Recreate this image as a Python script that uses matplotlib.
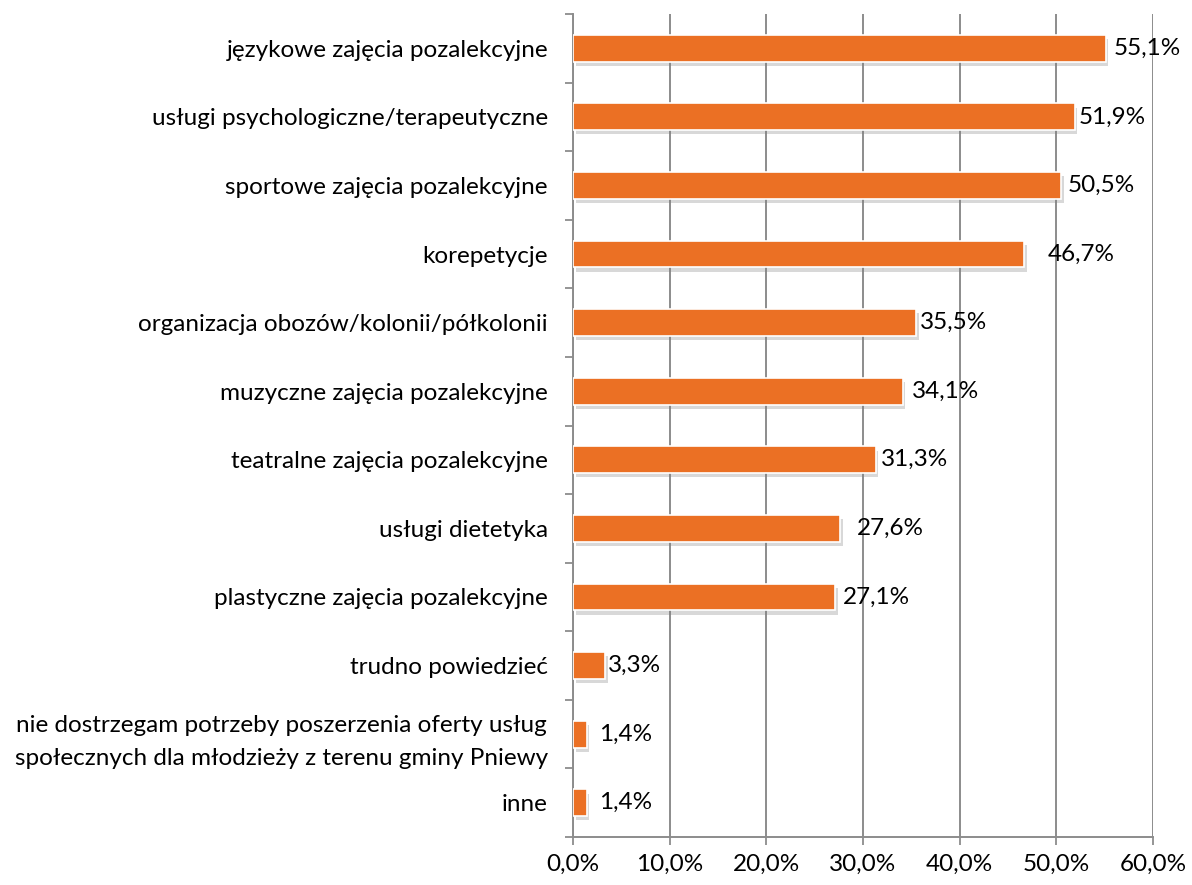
import matplotlib.pyplot as plt
import matplotlib.patheffects as pe
import numpy as np

plt.rcParams['font.family'] = ['Lato', 'DejaVu Sans']

categories = [
    "językowe zajęcia pozalekcyjne",
    "usługi psychologiczne/terapeutyczne",
    "sportowe zajęcia pozalekcyjne",
    "korepetycje",
    "organizacja obozów/kolonii/półkolonii",
    "muzyczne zajęcia pozalekcyjne",
    "teatralne zajęcia pozalekcyjne",
    "usługi dietetyka",
    "plastyczne zajęcia pozalekcyjne",
    "trudno powiedzieć",
    "nie dostrzegam potrzeby poszerzenia oferty usług\nspołecznych dla młodzieży z terenu gminy Pniewy",
    "inne",
]
values = [55.1, 51.9, 50.5, 46.7, 35.5, 34.1, 31.3, 27.6, 27.1, 3.3, 1.4, 1.4]
xticks = [0, 10, 20, 30, 40, 50, 60]

# label gaps from bar end (points), mimicking the hand-placed labels
label_gap = [6, 3, 5, 17, 3, 7, 4, 12, 6, 2, 9, 9]

bar_color = '#EB7024'
grid_color = '#8C8C8C'
fs = 17.5

fig = plt.figure(figsize=(11.92, 8.85), dpi=100)
ax = fig.add_axes([0.4807, 0.0542, 0.4866, 0.93])

y = np.arange(len(categories))
bars = ax.barh(y, values, height=0.39, color=bar_color, edgecolor='white',
               linewidth=1.2, zorder=3)
for b in bars:
    b.set_path_effects([pe.SimplePatchShadow(offset=(2, -3), shadow_rgbFace='#7f7f7f', alpha=0.3),
                        pe.Normal()])

for yi, v, g in zip(y, values, label_gap):
    ax.annotate(f"{v:.1f}%".replace('.', ','), (v, yi), xytext=(g, 0),
                textcoords='offset points', va='center', ha='left',
                fontsize=fs, color='black', zorder=4)

ax.set_xlim(0, 60)
ax.set_ylim(len(categories) - 0.5, -0.5)
ax.set_xticks(xticks)
ax.set_xticklabels([f"{t:.1f}%".replace('.', ',') for t in xticks], fontsize=fs)
ax.set_yticks(y)
ax.set_yticklabels(categories, fontsize=fs, multialignment='center', linespacing=1.7)
ax.set_yticks(np.arange(-0.5, len(categories)), minor=True)

ax.tick_params(axis='y', which='major', length=0, pad=18)
ax.tick_params(axis='y', which='minor', length=6, width=1.3, color=grid_color, direction='out')
ax.tick_params(axis='x', length=6, width=1.3, color=grid_color, direction='out', pad=6)

ax.xaxis.grid(True, color=grid_color, linewidth=1.4, zorder=0)
ax.set_axisbelow(True)
for s in ['top', 'right']:
    ax.spines[s].set_visible(False)
for s in ['left', 'bottom']:
    ax.spines[s].set_color(grid_color)
    ax.spines[s].set_linewidth(1.4)

fig.savefig('out.png', dpi=100)
